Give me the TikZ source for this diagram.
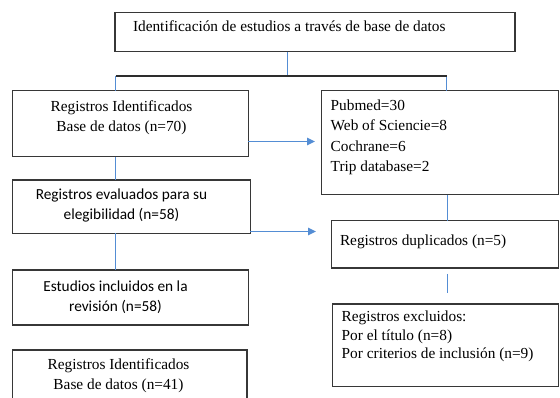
\documentclass[tikz,border=0pt]{standalone}
\usepackage{fontspec}
\setmainfont{Liberation Serif}
\newfontfamily\calibri{Carlito}
\usetikzlibrary{arrows.meta}

\begin{document}
\begin{tikzpicture}[x=0.75pt,y=0.75pt,yscale=-1,xscale=1,
	box/.style={draw={rgb, 255:red, 55; green, 55; blue, 55 }, line width=0.8pt, inner sep=0pt, outer sep=0pt, anchor=north west},
	txt/.style={inner sep=0pt, outer sep=0pt, font=\fontsize{11.5}{15}\selectfont},
	sanstxt/.style={txt, font=\calibri\fontsize{11.5}{15}\selectfont},
	link/.style={draw={rgb, 255:red, 84; green, 141; blue, 212 }, line width=1.2pt},
	bar/.style={draw={rgb, 255:red, 45; green, 45; blue, 45 }, line width=0.9pt},
	arrow/.style={link, -{Triangle[length=6pt,width=5.5pt]}}]
	\useasboundingbox (0,0) rectangle (560,398); %set diagram left start at 0, and has height of 398

	%Shape: Rectangle [title]
	\node[box, minimum width=300pt, minimum height=29.25pt] (title) at (115,12.7) {};
	%Shape: Rectangle [left column]
	\node[box, minimum width=177pt, minimum height=49.5pt] (regid) at (12.3,90.7) {};
	\node[box, minimum width=178.3pt, minimum height=40pt] (eval) at (12.3,180) {};
	\node[box, minimum width=176.8pt, minimum height=41.25pt] (incl) at (12.3,270) {};
	\node[box, minimum width=176pt, minimum height=45pt] (regidb) at (12.3,350) {};
	%Shape: Rectangle [right column]
	\node[box, minimum width=177.5pt, minimum height=78.2pt] (pubmed) at (321.7,90.7) {};
	\node[box, minimum width=170.1pt, minimum height=35.5pt] (dup) at (331.7,220.7) {};
	\node[box, minimum width=169.4pt, minimum height=62pt] (excl) at (332.7,304) {};

	%Straight Lines [fork]
	\coordinate (fork) at (287.5,76);
	\coordinate (forkL) at (115.5,76);
	\coordinate (forkR) at (446.5,76);
	\draw[link] (title.south -| fork) -- (fork);
	\draw[link] (regid.north -| forkL) -- (forkL);
	\draw[link] (pubmed.north -| forkR) -- (forkR);
	\draw[bar] (forkL) -- (forkR);
	%Straight Lines [columns]
	\coordinate (colL) at (115.5,0);
	\coordinate (colR) at (447.5,0);
	\draw[link] (regid.south -| colL) -- (eval.north -| colL);
	\draw[link] (eval.south -| colL) -- (incl.north -| colL);
	\draw[link] (pubmed.south -| colR) -- (dup.north -| colR);
	\coordinate (gapA) at (447.5,274);
	\coordinate (gapB) at (447.5,292.7);
	\draw[link] (gapA) -- (gapB);
	%Straight Lines [arrows]
	\coordinate (tipA) at (315,141.5);
	\coordinate (tipB) at (316,231.5);
	\draw[arrow] (regid.east |- tipA) -- (tipA);
	\draw[arrow] (eval.east |- tipB) -- (tipB);

	% Text Node
	\node[txt, anchor=base west] (title-txt) at (133,31.5) {Identificación de estudios a través de base de datos};
	% Text Node
	\node[txt, anchor=north, align=center] (regid-txt) at (121.5,100.5) {Registros Identificados\\Base de datos (n=70)};
	% Text Node
	\node[sanstxt, anchor=north, align=center] (eval-txt) at (121.5,189) {Registros evaluados para su\\elegibilidad (n=58)};
	% Text Node
	\node[sanstxt, anchor=north, align=center] (incl-txt) at (115.5,281) {Estudios incluidos en la\\revisión (n=58)};
	% Text Node
	\node[txt, anchor=north, align=center] (regidb-txt) at (118.5,359) {Registros Identificados\\Base de datos (n=41)};
	% Text Node
	\node[txt, anchor=north west, align=left, font=\fontsize{11.5}{15.4}\selectfont] (pubmed-txt) at (330.7,99.5) {Pubmed=30\\Web of Sciencie=8\\Cochrane=6\\Trip database=2};
	% Text Node
	\node[txt, anchor=base west] (dup-txt) at (340,246) {Registros duplicados (n=5)};
	% Text Node
	\node[txt, anchor=north west, align=left, font=\fontsize{11.5}{13.7}\selectfont] (excl-txt) at (341.7,311.2) {Registros excluidos:\\Por el título (n=8)\\Por criterios de inclusión (n=9)};

\end{tikzpicture}
\end{document}
